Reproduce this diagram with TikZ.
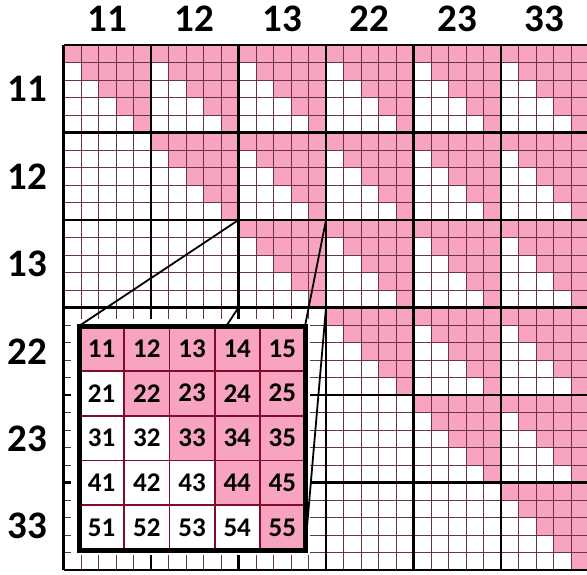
\documentclass[tikz,border=0pt]{standalone}
\usepackage{fontspec}
\setmainfont{Carlito}
\usetikzlibrary{positioning, calc}
\definecolor{cellpink}{RGB}{248,164,192}
\definecolor{fineline}{RGB}{104,52,66}
\definecolor{insetline}{RGB}{128,12,42}

\begin{document}
\begin{tikzpicture}[x=1pt, y=-1pt, cell/.style={fill=cellpink}, fine/.style={draw=fineline, line width=0.9pt}, blockline/.style={draw=black, line width=2.8pt}, axislabel/.style={font=\fontsize{39}{41}\selectfont\bfseries, inner sep=0pt}, zoomline/.style={draw=black, line width=1.8pt}, insettext/.style={font=\fontsize{27}{29}\selectfont\bfseries, inner sep=0pt}]
  \clip (0,0) rectangle (587,574);
  \fill[white] (0,0) rectangle (587,574);

  % big matrix: 6x6 blocks of 5x5 cells
  \begin{scope}[shift={(63.5,45)}]
    \foreach \bi in {0,...,5}
      \foreach \bj in {\bi,...,5}
        \foreach \r in {0,...,4}
          \foreach \c in {\r,...,4}
            \fill[cell] ({87.5*\bj+17.5*\c},{87.5*\bi+17.5*\r}) rectangle ++(17.5,17.5);
    \foreach \k in {0,...,30} {
      \draw[fine] (17.5*\k,0) -- (17.5*\k,525);
      \draw[fine] (0,17.5*\k) -- (525,17.5*\k);
    }
    \foreach \k in {0,...,6} {
      \draw[blockline] (87.5*\k,0) -- (87.5*\k,525);
      \draw[blockline] (0,87.5*\k) -- (525,87.5*\k);
    }
    \coordinate (src-nw) at (175,175);
    \coordinate (src-ne) at (262.5,175);
    \coordinate (src-sw) at (175,262.5);
    \coordinate (src-se) at (262.5,262.5);
  \end{scope}

  \foreach \t [count=\i from 0] in {11,12,13,22,23,33} {
    \node[axislabel] (col-\t) at (107.25+87.5*\i,19) {\t};
    \node[axislabel] (row-\t) at (27,88.75+87.5*\i) {\t};
  }

  % zoomed block
  \fill[white] (71,319) rectangle (310,555);
  \coordinate (ins-nw) at (79,326);
  \coordinate (ins-ne) at (305,326);
  \coordinate (ins-sw) at (79,550);
  \coordinate (ins-se) at (305,550);
  \draw[zoomline] (src-nw) -- (ins-nw);
  \draw[zoomline] (src-ne) -- (ins-ne);
  \draw[zoomline] (src-sw) -- (ins-sw);
  \draw[zoomline] (src-se) -- (ins-se);

  \begin{scope}[shift={(79,326)}]
    \fill[white] (0,0) rectangle (226,224);
    \foreach \r in {0,...,4}
      \foreach \c in {\r,...,4}
        \fill[cell] ({45.2*\c},{44.8*\r}) rectangle ++(45.2,44.8);
    \foreach \k in {1,...,4} {
      \draw[insetline, line width=1.8pt] (45.2*\k,0) -- (45.2*\k,224);
      \draw[insetline, line width=1.8pt] (0,44.8*\k) -- (226,44.8*\k);
    }
    \foreach \r in {1,...,5}
      \foreach \c in {1,...,5}
        \node[insettext] (ins-\r\c) at ({45.2*\c-22.6},{44.8*\r-22.4}) {\r\c};
    \draw[black, line width=5pt] (0,0) rectangle (226,224);
  \end{scope}
\end{tikzpicture}
\end{document}
